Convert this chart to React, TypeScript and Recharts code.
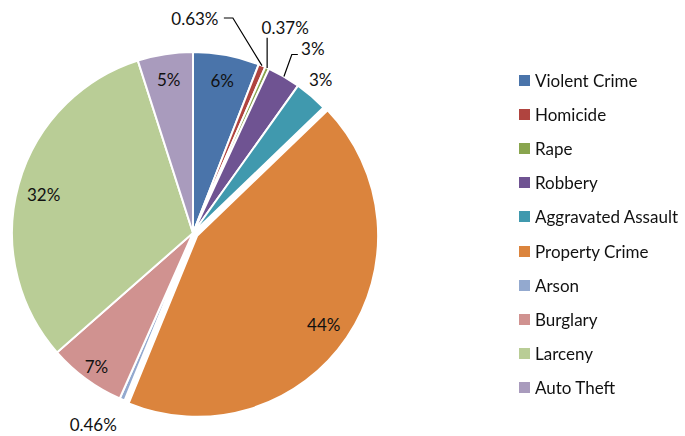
import { PieChart, Pie, Cell, Legend } from "recharts"

const categories = [
  "Violent Crime",
  "Homicide",
  "Rape",
  "Robbery",
  "Aggravated Assault",
  "Property Crime",
  "Arson",
  "Burglary",
  "Larceny",
  "Auto Theft",
]
const shares = [6, 0.63, 0.37, 3, 3, 44, 0.46, 7, 32, 5]
const colors = [
  "#4A74AA",
  "#B0443F",
  "#89A54E",
  "#6F5392",
  "#4099AE",
  "#DB843D",
  "#93A9CF",
  "#D09290",
  "#B9CD96",
  "#A99BBD",
]

// label placement: inside labels use radius only, outside ones use a clock angle too
const labelPos: { r: number; clock?: number; leader?: number[][]; vertical?: boolean }[] = [
  { r: 158 },
  { r: 215, clock: 0.5, leader: [[29, 0], [38, 0]] },
  { r: 225, clock: 24.2, leader: [[-19, 10]], vertical: true },
  { r: 220, clock: 33, leader: [[-15, 6], [-21, 6]] },
  { r: 200, clock: 39.7 },
  { r: 153 },
  { r: 216, clock: 207.5 },
  { r: 163 },
  { r: 155 },
  { r: 158 },
]

const data = categories.map((name, i) => ({ name, value: shares[i] }))
const EXPLODED = 5
const EXPLODE_DIST = 5
const CX = 193
const CY = 233
const R = 181
const RAD = Math.PI / 180

const total = shares.reduce((a, b) => a + b, 0)
const before = shares.slice(0, EXPLODED).reduce((a, b) => a + b, 0)
const explodeAngle = 90 - ((before + shares[EXPLODED] / 2) / total) * 360
const exDx = EXPLODE_DIST * Math.cos(explodeAngle * RAD)
const exDy = -EXPLODE_DIST * Math.sin(explodeAngle * RAD)

const font = "Lato, 'Open Sans', sans-serif"

function renderLabel(props: any) {
  const { midAngle, index } = props
  const pos = labelPos[index]
  const ox = index === EXPLODED ? CX + exDx : CX
  const oy = index === EXPLODED ? CY + exDy : CY
  let x: number
  let y: number
  if (pos.clock === undefined) {
    x = ox + pos.r * Math.cos(-midAngle * RAD)
    y = oy + pos.r * Math.sin(-midAngle * RAD) + 2.5
  } else {
    x = CX + pos.r * Math.sin(pos.clock * RAD)
    y = CY - pos.r * Math.cos(pos.clock * RAD)
  }
  let line = null
  if (pos.leader) {
    const ex = CX + R * Math.cos(-midAngle * RAD)
    const ey = CY + R * Math.sin(-midAngle * RAD)
    const pts = pos.leader.map(([dx, dy]) => [x + dx, y + dy])
    if (pos.vertical) pts[0][0] = ex
    const all = [...pts, [ex, ey]]
    line = (
      <polyline
        points={all.map((p) => p.join(",")).join(" ")}
        fill="none"
        stroke="#000"
        strokeWidth={1.2}
      />
    )
  }
  return (
    <g key={`lbl-${index}`}>
      {line}
      <text
        x={x}
        y={y}
        textAnchor="middle"
        dominantBaseline="central"
        fontFamily={font}
        fontSize={17}
        fill="#111"
      >
        {`${shares[index]}%`}
      </text>
    </g>
  )
}

function LegendList() {
  return (
    <div style={{ fontFamily: font, fontSize: 17, color: "#111" }}>
      {categories.map((c, i) => (
        <div key={c} style={{ display: "flex", alignItems: "center", height: 34.2 }}>
          <span
            style={{
              display: "inline-block",
              width: 11,
              height: 11,
              background: colors[i],
              marginRight: 5,
            }}
          />
          <span>{c}</span>
        </div>
      ))}
    </div>
  )
}

export default function App() {
  return (
    <div style={{ position: "fixed", left: 0, top: 0, background: "#fff" }}>
      <PieChart width={685} height={436} margin={{ top: 0, right: 0, bottom: 0, left: 0 }}>
        <Pie
          data={data}
          dataKey="value"
          cx={CX}
          cy={CY}
          outerRadius={R}
          startAngle={90}
          endAngle={-270}
          stroke="#fff"
          strokeWidth={2}
          label={renderLabel}
          labelLine={false}
          isAnimationActive={false}
        >
          {data.map((d, i) => (
            <Cell
              key={d.name}
              fill={i === EXPLODED ? "transparent" : colors[i]}
              stroke={i === EXPLODED ? "none" : "#fff"}
            />
          ))}
        </Pie>
        <Pie
          data={data}
          dataKey="value"
          cx={CX + exDx}
          cy={CY + exDy}
          outerRadius={R}
          startAngle={90}
          endAngle={-270}
          stroke="none"
          isAnimationActive={false}
          legendType="none"
        >
          {data.map((d, i) => (
            <Cell
              key={d.name}
              fill={i === EXPLODED ? colors[i] : "transparent"}
              stroke={i === EXPLODED ? "#fff" : "none"}
              strokeWidth={2}
            />
          ))}
        </Pie>
        <Legend
          layout="vertical"
          content={() => <LegendList />}
          wrapperStyle={{ left: 519, top: 63, width: 170 }}
        />
      </PieChart>
    </div>
  )
}
